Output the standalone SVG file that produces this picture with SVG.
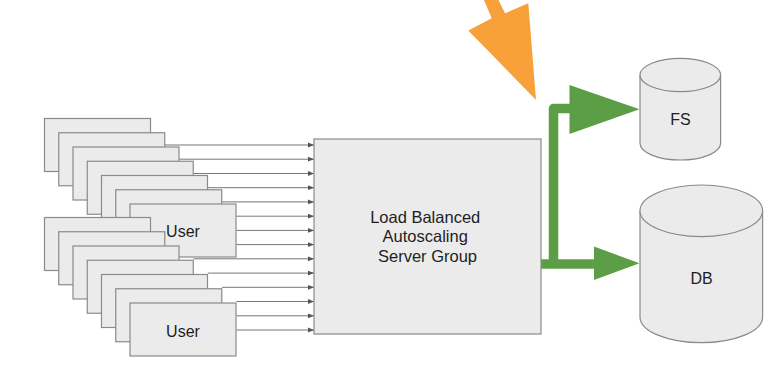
<svg xmlns="http://www.w3.org/2000/svg" width="770" height="389" viewBox="0 0 770 389">
  <style>
    .box { fill: #ebebeb; stroke: #8a8a8a; stroke-width: 1.2; }
    .lbl { font-family: "Liberation Sans", Arial, sans-serif; fill: #1e1e1e; text-anchor: middle; }
    .req { stroke: #777; stroke-width: 1; fill: none; marker-end: url(#tip); }
    .flow { stroke: #5c9e45; stroke-width: 9.5; fill: none; stroke-linejoin: round; }
    .green { fill: #5c9e45; }
  </style>
  <defs>
    <marker id="tip" viewBox="0 0 6 6" refX="6" refY="3" markerWidth="6" markerHeight="6" markerUnits="userSpaceOnUse" orient="auto">
      <path d="M0,0.6 L6,3 L0,5.4 Z" fill="#555"/>
    </marker>
  </defs>
  <rect width="770" height="389" fill="#fff"/>

  <!-- request lines from the user stacks into the server group -->
  <g id="connectors">
    <line class="req" x1="165" y1="145" x2="314" y2="145"/>
    <line class="req" x1="179.3" y1="159.2" x2="314" y2="159.2"/>
    <line class="req" x1="193.5" y1="173.5" x2="314" y2="173.5"/>
    <line class="req" x1="207.8" y1="187.7" x2="314" y2="187.7"/>
    <line class="req" x1="222" y1="201.9" x2="314" y2="201.9"/>
    <line class="req" x1="236.3" y1="216.2" x2="314" y2="216.2"/>
    <line class="req" x1="236.3" y1="230.4" x2="314" y2="230.4"/>
    <line class="req" x1="236.3" y1="244.6" x2="314" y2="244.6"/>
    <line class="req" x1="193.5" y1="258.8" x2="314" y2="258.8"/>
    <line class="req" x1="207.8" y1="273.1" x2="314" y2="273.1"/>
    <line class="req" x1="222" y1="287.3" x2="314" y2="287.3"/>
    <line class="req" x1="236.3" y1="301.5" x2="314" y2="301.5"/>
    <line class="req" x1="236.3" y1="315.8" x2="314" y2="315.8"/>
    <line class="req" x1="236.3" y1="330" x2="314" y2="330"/>

    <!-- storage flows -->
    <path class="flow" d="M541,264 H596"/>
    <path class="flow" d="M553.5,264 V108.5 H571"/>
    <polygon class="green" points="594,246.5 639.5,263.3 594,280"/>
    <polygon class="green" points="569.5,85 639.5,109.3 569.5,134"/>

    <!-- incoming arrow -->
    <polygon fill="#f8a03a" points="484,0 498.5,0 505,13.3 528.3,3.3 536,100 468.3,30.5 491.7,18.3 484,0"/>
  </g>

  <!-- upper user stack -->
  <g id="users-a">
    <rect class="box" x="44.5" y="118.5" width="106" height="53"/>
    <rect class="box" x="58.75" y="132.75" width="106" height="53"/>
    <rect class="box" x="73" y="147" width="106" height="53"/>
    <rect class="box" x="87.25" y="161.25" width="106" height="53"/>
    <rect class="box" x="101.5" y="175.5" width="106" height="53"/>
    <rect class="box" x="115.75" y="189.75" width="106" height="53"/>
    <rect class="box" x="130" y="204" width="106" height="53"/>
    <text class="lbl" x="183" y="236.7" font-size="16">User</text>
  </g>

  <!-- lower user stack -->
  <g id="users-b">
    <rect class="box" x="44.5" y="217.5" width="106" height="53"/>
    <rect class="box" x="58.75" y="231.75" width="106" height="53"/>
    <rect class="box" x="73" y="246" width="106" height="53"/>
    <rect class="box" x="87.25" y="260.25" width="106" height="53"/>
    <rect class="box" x="101.5" y="274.5" width="106" height="53"/>
    <rect class="box" x="115.75" y="288.75" width="106" height="53"/>
    <rect class="box" x="130" y="303" width="106" height="53"/>
    <text class="lbl" x="183" y="336.7" font-size="16">User</text>
  </g>

  <g id="server-group">
    <rect class="box" x="314" y="139" width="227" height="195"/>
    <text class="lbl" font-size="16.5">
      <tspan x="427.5" y="222.7">Load Balanced</tspan>
      <tspan x="427.5" y="242.4">Autoscaling</tspan>
      <tspan x="427.5" y="262.1">Server Group</tspan>
    </text>
  </g>

  <g id="fs">
    <path class="box" d="M640,75 A40.3,16.7 0 0 1 720.6,75 V143.3 A40.3,16.7 0 0 1 640,143.3 Z"/>
    <path class="box" fill="none" d="M640,75 A40.3,16.7 0 0 0 720.6,75"/>
    <text class="lbl" x="680.5" y="125" font-size="16">FS</text>
  </g>

  <g id="db">
    <path class="box" d="M640,210.8 A61.3,25.8 0 0 1 762.6,210.8 V316.9 A61.3,25.8 0 0 1 640,316.9 Z"/>
    <path class="box" fill="none" d="M640,210.8 A61.3,25.8 0 0 0 762.6,210.8"/>
    <text class="lbl" x="701.5" y="284" font-size="16">DB</text>
  </g>
</svg>
